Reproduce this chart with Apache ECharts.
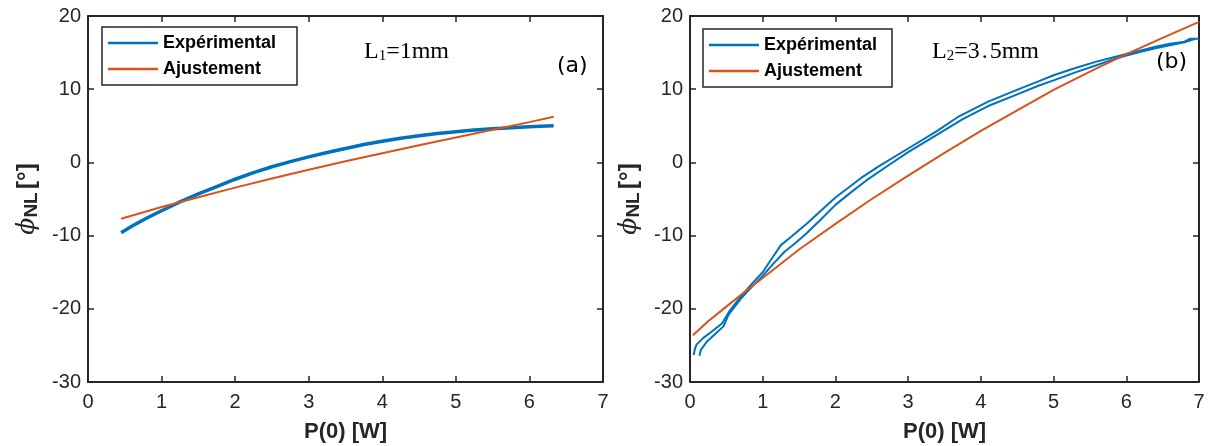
<!DOCTYPE html>
<html><head><meta charset="utf-8">
<script src="https://cdn.jsdelivr.net/npm/echarts/dist/echarts.min.js"></script>
<style>html,body{margin:0;padding:0;background:#fff}#c{width:1215px;height:446px}</style>
</head><body><div id="c"></div>
<script>
// ---- data ----
const xTickMin = 0, xTickMax = 7, xTickStep = 1;
const yTickMin = -30, yTickMax = 20, yTickStep = 10;
const legendNames = ['Expérimental', 'Ajustement'];
const panelLabels = ['(a)', '(b)'];
const xAxisTitle = 'P(0) [W]';

// panel (a) L1 = 1 mm
const leftExpX = [0.45,0.6,0.8,1.0,1.25,1.5,1.75,2.0,2.25,2.5,2.75,3.0,3.25,3.5,3.75,4.0,4.25,4.5,4.75,5.0,5.25,5.5,5.75,6.0,6.15,6.33];
const leftExpY = [-9.6,-8.7,-7.6,-6.6,-5.4,-4.3,-3.3,-2.3,-1.4,-0.6,0.1,0.75,1.35,1.9,2.45,2.9,3.3,3.65,3.95,4.2,4.42,4.6,4.75,4.87,4.93,5.0];
const leftFitX = [0.45,1,1.5,2,2.5,3,3.5,4,4.5,5,5.5,6,6.33];
const leftFitY = [-7.7,-6.1,-4.75,-3.45,-2.2,-1.0,0.15,1.25,2.35,3.4,4.45,5.5,6.25];

// panel (b) L2 = 3.5 mm (two experimental sweeps)
const rightExpUpX = [0.05,0.07,0.09,0.18,0.3,0.44,0.55,0.7,0.85,1.0,1.12,1.25,1.4,1.6,1.8,2.0,2.2,2.37,2.6,3.0,3.4,3.7,4.1,4.47,4.8,5.0,5.3,5.6,5.8,6.0,6.2,6.4,6.6,6.8,6.88,7.0];
const rightExpUpY = [-26.3,-25.4,-24.9,-24.0,-23.1,-22.0,-20.2,-18.3,-16.6,-15.0,-13.2,-11.3,-10.1,-8.4,-6.6,-4.8,-3.3,-2.0,-0.5,1.9,4.3,6.3,8.3,9.8,11.1,11.9,12.9,13.8,14.3,14.8,15.3,15.8,16.2,16.5,16.9,16.9];
const rightExpDownX = [0.13,0.14,0.15,0.23,0.35,0.46,0.53,0.7,0.85,1.0,1.15,1.3,1.45,1.6,1.8,2.0,2.2,2.42,2.7,3.0,3.4,3.75,4.1,4.5,4.8,5.0,5.3,5.6,5.8,6.0,6.2,6.4,6.6,6.8,6.95];
const rightExpDownY = [-26.4,-26.0,-25.6,-24.5,-23.4,-22.4,-20.8,-18.6,-17.0,-15.5,-13.8,-12.2,-11.0,-9.7,-7.8,-5.8,-4.2,-2.5,-0.6,1.4,3.8,5.9,7.7,9.3,10.5,11.2,12.3,13.3,14.0,14.6,15.1,15.6,16.0,16.4,16.9];
const rightFitX = [0.04,0.25,0.5,0.75,1,1.5,2,2.5,3,3.5,4,4.5,5,5.5,6,6.5,7];
const rightFitY = [-23.6,-21.7,-19.7,-17.7,-15.8,-11.9,-8.4,-5.0,-1.8,1.3,4.3,7.1,9.9,12.4,14.8,17.0,19.2];

// ---- build chart ----
const BLUE = '#0072BD', ORANGE = '#D95319', INK = '#262626';
const pairs = (xs, ys) => xs.map((x, i) => [x, ys[i]]);

const grids = [
  {left: 88, top: 16, width: 515, height: 366, outerBoundsMode: 'none', containLabel: false},
  {left: 690, top: 16, width: 509, height: 366, outerBoundsMode: 'none', containLabel: false}
];

const lineAxis = {show: true, onZero: false, lineStyle: {color: INK, width: 2}};
const tickIn = {show: true, inside: true, length: 6, lineStyle: {color: INK, width: 1.5}};
const labelStyle = {color: INK, fontSize: 20, fontFamily: 'Liberation Sans, Arial, sans-serif'};

const xAxes = [], yAxes = [];
grids.forEach((g, gi) => {
  xAxes.push({
    gridIndex: gi, type: 'value', position: 'bottom', min: xTickMin, max: xTickMax, interval: xTickStep,
    axisLine: lineAxis, axisTick: tickIn, splitLine: {show: false},
    axisLabel: Object.assign({margin: 10}, labelStyle),
    name: xAxisTitle, nameLocation: 'middle', nameGap: 39,
    nameTextStyle: {color: INK, fontSize: 22, fontWeight: 'bold', fontFamily: 'Liberation Sans, Arial, sans-serif'}
  });
  xAxes.push({
    gridIndex: gi, type: 'value', position: 'top', min: xTickMin, max: xTickMax, interval: xTickStep,
    axisLine: lineAxis, axisTick: tickIn, splitLine: {show: false}, axisLabel: {show: false}
  });
  yAxes.push({
    gridIndex: gi, type: 'value', position: 'left', min: yTickMin, max: yTickMax, interval: yTickStep,
    axisLine: lineAxis, axisTick: tickIn, splitLine: {show: false},
    axisLabel: Object.assign({margin: 7}, labelStyle),
    name: '{phi|ϕ}{sub|NL} {u|[°]}', nameLocation: 'middle', nameRotate: 90, nameGap: 47,
    nameTextStyle: {
      color: INK,
      rich: {
        phi: {fontFamily: 'DejaVu Serif', fontStyle: 'italic', fontSize: 25, color: INK},
        sub: {fontFamily: 'Liberation Sans, Arial', fontWeight: 'bold', fontSize: 19, color: INK, verticalAlign: 'bottom', padding: [9, 0, 0, 0]},
        u: {fontFamily: 'Liberation Sans, Arial', fontWeight: 'bold', fontSize: 24, color: INK}
      }
    }
  });
  yAxes.push({
    gridIndex: gi, type: 'value', position: 'right', min: yTickMin, max: yTickMax, interval: yTickStep,
    axisLine: lineAxis, axisTick: tickIn, splitLine: {show: false}, axisLabel: {show: false}
  });
});

function lineSeries(name, data, gi, color, width) {
  return {
    name, type: 'line', data, xAxisIndex: gi * 2, yAxisIndex: gi * 2,
    symbol: 'none', showSymbol: false, smooth: false, clip: true, animation: false,
    lineStyle: {color, width}, itemStyle: {color}
  };
}

const series = [
  lineSeries(legendNames[0], pairs(leftExpX, leftExpY), 0, BLUE, 3.5),
  lineSeries(legendNames[1], pairs(leftFitX, leftFitY), 0, ORANGE, 2),
  lineSeries(legendNames[0], pairs(rightExpUpX, rightExpUpY), 1, BLUE, 2),
  lineSeries(legendNames[0], pairs(rightExpDownX, rightExpDownY), 1, BLUE, 2),
  lineSeries(legendNames[1], pairs(rightFitX, rightFitY), 1, ORANGE, 2)
];

function legendAt(left, top, textW) {
  return {
    data: legendNames, orient: 'vertical', left, top,
    backgroundColor: '#fff', borderColor: INK, borderWidth: 1.5, borderRadius: 0,
    padding: [6, 10, 6, 6], itemGap: 6, itemWidth: 50, itemHeight: 2.5, icon: 'rect',
    selectedMode: false,
    textStyle: {color: '#000', fontSize: 18, fontWeight: 'bold', fontFamily: 'Liberation Sans, Arial, sans-serif', lineHeight: 20, width: textW}
  };
}

const serifRich = {
  l: {fontFamily: 'Liberation Serif, Times New Roman, serif', fontSize: 24, color: '#000'},
  s: {fontFamily: 'Liberation Serif, Times New Roman, serif', fontSize: 15, color: '#000', verticalAlign: 'bottom', padding: [8, 0, 0, 0]}
};

const option = {
  backgroundColor: '#fff',
  animation: false,
  grid: grids,
  xAxis: xAxes,
  yAxis: yAxes,
  legend: [legendAt(102, 27, 124), legendAt(703, 29, 118)],
  series,
  graphic: [
    {type: 'text', left: 364, top: 40, style: {text: '{l|L}{s|1}{l|=1mm}', rich: serifRich}},
    {type: 'text', left: 557, top: 55, style: {text: panelLabels[0], fill: '#000', fontSize: 22, fontFamily: 'DejaVu Sans, sans-serif'}},
    {type: 'text', left: 932, top: 40, style: {text: '{l|L}{s|2}{l|=3\u200a.\u200a5mm}', rich: serifRich}},
    {type: 'text', left: 1156, top: 51, style: {text: panelLabels[1], fill: '#000', fontSize: 22, fontFamily: 'DejaVu Sans, sans-serif'}}
  ]
};

const chart = echarts.init(document.getElementById('c'), null, {renderer: 'canvas'});
chart.setOption(option);
</script>
</body></html>
